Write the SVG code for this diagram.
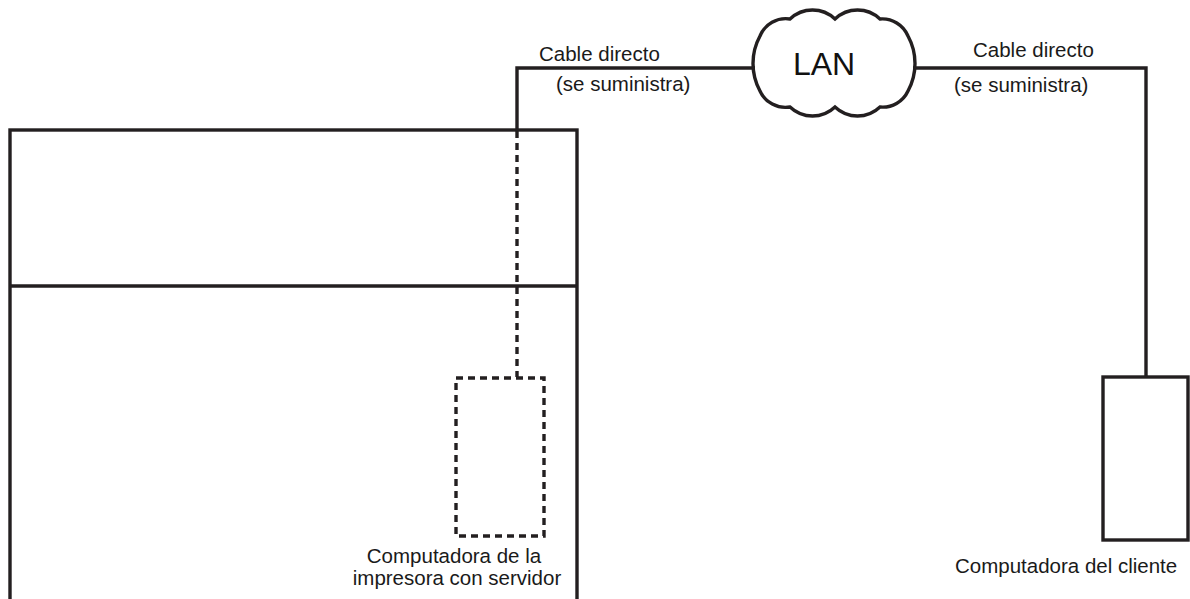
<svg xmlns="http://www.w3.org/2000/svg" width="1190" height="599" viewBox="0 0 1190 599">
<style>
.s{fill:none;stroke:#231f20;stroke-width:3.4}
.d{fill:none;stroke:#231f20;stroke-width:3.4;stroke-dasharray:7 5}
.t{font-family:"Liberation Sans",Arial,sans-serif;font-size:20.5px;fill:#1a1a1a}
.big{font-family:"Liberation Sans",Arial,sans-serif;font-size:32px;fill:#111}
</style>
<rect width="1190" height="599" fill="#fff"/>
<g id="connectors">
<polyline class="s" points="517,130 517,68 755,68"/>
<polyline class="s" points="913,68 1146,68 1146,377"/>
<line class="d" x1="517" y1="131" x2="517" y2="377"/>
</g>
<g id="printer">
<rect class="s" x="10" y="130" width="567" height="490"/>
<line class="s" x1="10" y1="286" x2="577" y2="286"/>
</g>
<g id="server">
<rect class="d" x="456" y="378" width="88" height="158"/>
<text class="t" x="454" y="563" text-anchor="middle">Computadora de la</text>
<text class="t" x="457" y="585" text-anchor="middle">impresora con servidor</text>
</g>
<g id="lan">
<path class="s" fill="#fff" d="M760,36 A27.8,27.8 0 0 1 790,19 A32.6,32.6 0 0 1 835,19 A32.6,32.6 0 0 1 880,19 A27.8,27.8 0 0 1 908,36 A57.5,57.5 0 0 1 908,91 A27.8,27.8 0 0 1 880,107 A32.6,32.6 0 0 1 835,107 A32.6,32.6 0 0 1 790,107 A27.8,27.8 0 0 1 760,91 A57.5,57.5 0 0 1 760,36 Z"/>
<text class="big" x="824" y="75" text-anchor="middle">LAN</text>
</g>
<g id="client">
<rect class="s" x="1103" y="377" width="85" height="163"/>
<text class="t" x="955" y="573">Computadora del cliente</text>
</g>
<g id="labels">
<text class="t" x="539" y="61">Cable directo</text>
<text class="t" x="556" y="91">(se suministra)</text>
<text class="t" x="973" y="57">Cable directo</text>
<text class="t" x="954" y="92">(se suministra)</text>
</g>
</svg>
